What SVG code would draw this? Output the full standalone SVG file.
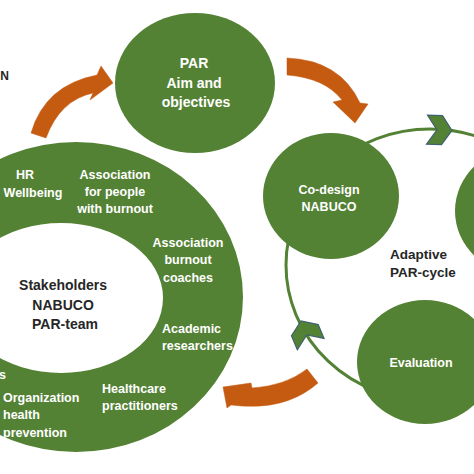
<svg xmlns="http://www.w3.org/2000/svg" width="474" height="474" viewBox="0 0 474 474">
  <defs>
    <style>
      .node { fill: #548235; }
      .wt { fill: #ffffff; font-family: "Liberation Sans", Arial, sans-serif; font-weight: bold; font-size: 12.5px; }
      .wc { text-anchor: middle; }
      .dk { fill: #262626; font-family: "Liberation Sans", Arial, sans-serif; font-weight: bold; }
      .arrow { fill: #C55A11; stroke: #C55A11; stroke-width: 0.5; stroke-linejoin: miter; }
      .cycle { fill: none; stroke: #548235; stroke-width: 3; }
      .chev { fill: #548235; stroke: #3e6170; stroke-width: 1.2; stroke-linejoin: miter; }
    </style>
    <polygon id="chevron" points="13,0 3,-14.5 -12,-14.5 -2,0 -12,14.5 3,14.5"/>
  </defs>

  <rect width="474" height="474" fill="#ffffff"/>

  <g id="connectors">
    <ellipse class="cycle" cx="430" cy="265" rx="144" ry="136"/>
    <use href="#chevron" class="chev" transform="translate(439,130) rotate(2)"/>
    <use href="#chevron" class="chev" transform="translate(306,333) rotate(-113)"/>
    <path class="arrow" d="M31,133 Q45,85 97,75 L101,66 L113,83 L90,100 L93,93 Q60,100 46,138 Z"/>
    <path class="arrow" d="M287,58 Q340,60 360,103 L368,104 L355,123 L333,102 L342,100 Q325,78 287,75 Z"/>
    <path class="arrow" d="M307,369 Q285,386 252,388 L251,383 L223,387 L227,408 L231,405 Q285,412 318,383 Z"/>
  </g>

  <g id="stakeholders">
    <path class="node" fill-rule="evenodd" d="M-91,297 A167,155 0 1,0 243,297 A167,155 0 1,0 -91,297 Z M-41,298 A102,75 0 1,0 163,298 A102,75 0 1,0 -41,298 Z"/>
    <text class="dk" font-size="14" text-anchor="middle">
      <tspan x="65" y="290">Stakeholders</tspan>
      <tspan x="65" y="310">NABUCO</tspan>
      <tspan x="65" y="329">PAR-team</tspan>
    </text>
    <text class="wt wc"><tspan x="25" y="179">HR</tspan><tspan x="33" y="197">Wellbeing</tspan></text>
    <text class="wt wc"><tspan x="115" y="179">Association</tspan><tspan x="115" y="196">for people</tspan><tspan x="115" y="213">with burnout</tspan></text>
    <text class="wt wc"><tspan x="188" y="247">Association</tspan><tspan x="188" y="264">burnout</tspan><tspan x="188" y="282">coaches</tspan></text>
    <text class="wt"><tspan x="162" y="333">Academic</tspan><tspan x="162" y="350">researchers</tspan></text>
    <text class="wt"><tspan x="102" y="393">Healthcare</tspan><tspan x="102" y="410">practitioners</tspan></text>
    <text class="wt"><tspan x="3" y="402">Organization</tspan><tspan x="3" y="419">health</tspan><tspan x="3" y="437">prevention</tspan></text>
    <text class="wt" x="6" y="379" text-anchor="end">s</text>
  </g>

  <g id="par">
    <ellipse class="node" cx="195" cy="83" rx="80" ry="70"/>
    <text class="wt wc" font-size="14" style="font-size:14px">
      <tspan x="196" y="68">PAR</tspan>
      <tspan x="196" y="88">Aim and</tspan>
      <tspan x="196" y="107">objectives</tspan>
    </text>
  </g>

  <g id="codesign">
    <ellipse class="node" cx="331" cy="196" rx="68" ry="63"/>
    <text class="wt wc"><tspan x="329" y="194">Co-design</tspan><tspan x="329" y="211">NABUCO</tspan></text>
  </g>

  <g id="right-node">
    <ellipse class="node" cx="523" cy="211" rx="68" ry="64"/>
  </g>

  <g id="evaluation">
    <ellipse class="node" cx="425" cy="362" rx="68" ry="62"/>
    <text class="wt wc" x="421" y="367">Evaluation</text>
  </g>

  <g id="adaptive-label">
    <text class="dk" font-size="13.5"><tspan x="390" y="259">Adaptive</tspan><tspan x="390" y="277">PAR-cycle</tspan></text>
  </g>

  <g id="cut-label">
    <text class="dk" font-size="12" x="9" y="80" text-anchor="end">N</text>
  </g>
</svg>
